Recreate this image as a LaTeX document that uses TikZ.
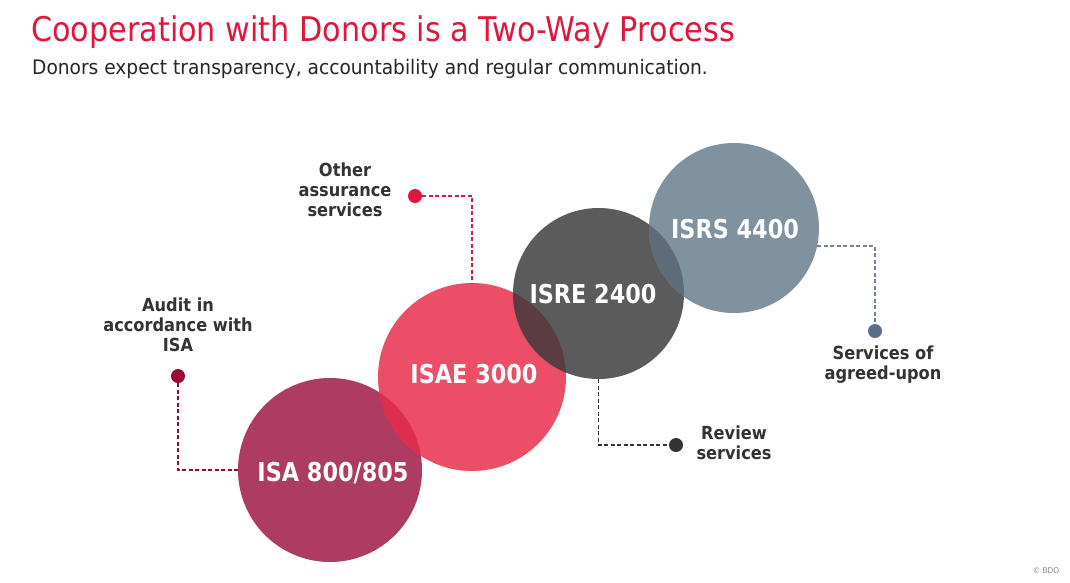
\documentclass[tikz,border=0pt]{standalone}
\usepackage{fontspec}
\setmainfont{DejaVu Sans}
\newfontfamily\ttlfont[FakeStretch=0.89]{DejaVu Sans}
\newfontfamily\subfont[FakeStretch=0.93]{DejaVu Sans}
\newfontfamily\cfont[FakeStretch=0.86]{DejaVu Sans Bold}
\newfontfamily\bfont[FakeStretch=0.90]{DejaVu Sans Bold}
\definecolor{titlered}{HTML}{E0173C}
\definecolor{subgray}{HTML}{262626}
\definecolor{cA}{HTML}{AE3B61}
\definecolor{cB}{HTML}{EC4E68}
\definecolor{cC}{HTML}{5B5B5B}
\definecolor{cD}{HTML}{8091A0}
\definecolor{oAB}{HTML}{DE2E4E}
\definecolor{oBC}{HTML}{5C3C43}
\definecolor{oCD}{HTML}{5E6C79}
\definecolor{dA}{HTML}{9B0632}
\definecolor{dB}{HTML}{E1163C}
\definecolor{dC}{HTML}{333333}
\definecolor{dD}{HTML}{5A6E88}
\definecolor{labgray}{HTML}{333333}
\tikzset{
  disc/.style={circle,inner sep=0pt,minimum size=#1},
  circtext/.style={text=white,font=\cfont\fontsize{26}{30}\selectfont,inner sep=0pt},
  dotnode/.style={circle,fill=#1,inner sep=0pt,minimum size=14pt},
  lab/.style={text=labgray,font=\bfont\fontsize{18}{20}\selectfont,align=center,inner sep=0pt},
  conn/.style={draw=#1,line width=1.6pt,dash pattern=on 4pt off 2.5pt}
}
\begin{document}
\begin{tikzpicture}[x=1pt,y=-1pt]
\useasboundingbox[fill=white] (0,0) rectangle (1070,582);
% title
\node[anchor=base west,inner sep=0pt,text=titlered,font=\ttlfont\fontsize{34}{40}\selectfont] (title) at (31,41) {Cooperation with Donors is a Two-Way Process};
\node[anchor=base west,inner sep=0pt,text=subgray,font=\subfont\fontsize{20}{24}\selectfont] (sub) at (32,74) {Donors expect transparency, accountability and regular communication.};
% circles
\node[disc=184pt,fill=cA] (c1) at (330,470) {};
\node[disc=188pt,fill=cB] (c2) at (472,377) {};
\node[disc=171pt,fill=cC] (c3) at (598.5,293.5) {};
\node[disc=170pt,fill=cD] (c4) at (734,228) {};
\begin{scope}
  \clip (c1.center) circle (92);
  \fill[oAB] (c2.center) circle (94);
\end{scope}
\begin{scope}
  \clip (c2.center) circle (94);
  \fill[oBC] (c3.center) circle (85.5);
\end{scope}
\begin{scope}
  \clip (c3.center) circle (85.5);
  \fill[oCD] (c4.center) circle (85);
\end{scope}
% circle texts
\node[circtext] (t1) at (333,473) {ISA 800/805};
\node[circtext] (t2) at (474,374) {ISAE 3000};
\node[circtext] (t3) at (593,294) {ISRE 2400};
\node[circtext] (t4) at (735,229) {ISRS 4400};
% dots
\node[dotnode=dA] (d1) at (178,376) {};
\node[dotnode=dB] (d2) at (415,196) {};
\node[dotnode=dC] (d3) at (676,445) {};
\node[dotnode=dD] (d4) at (875,331) {};
% connectors
\draw[conn=dA] (d1.south) |- (c1.west);
\draw[conn=dB] (d2.east) -| (c2.north);
\draw[conn=dC] (c3.south) |- (d3.west);
\draw[conn=dD!85!white] (c4.-12) -| (d4.north);
% labels
\node[lab] (l1) at (178,325) {Audit in\\accordance with\\ISA};
\node[lab] (l2) at (345,190) {Other\\assurance\\services};
\node[lab] (l3) at (734,443) {Review\\services};
\node[lab] (l4) at (883,365) {Services of\\agreed-upon};
% copyright
\node[text=black!45,font=\subfont\fontsize{8}{9}\selectfont,inner sep=0pt] (copy) at (1046,571) {© BDO};
\end{tikzpicture}
\end{document}
